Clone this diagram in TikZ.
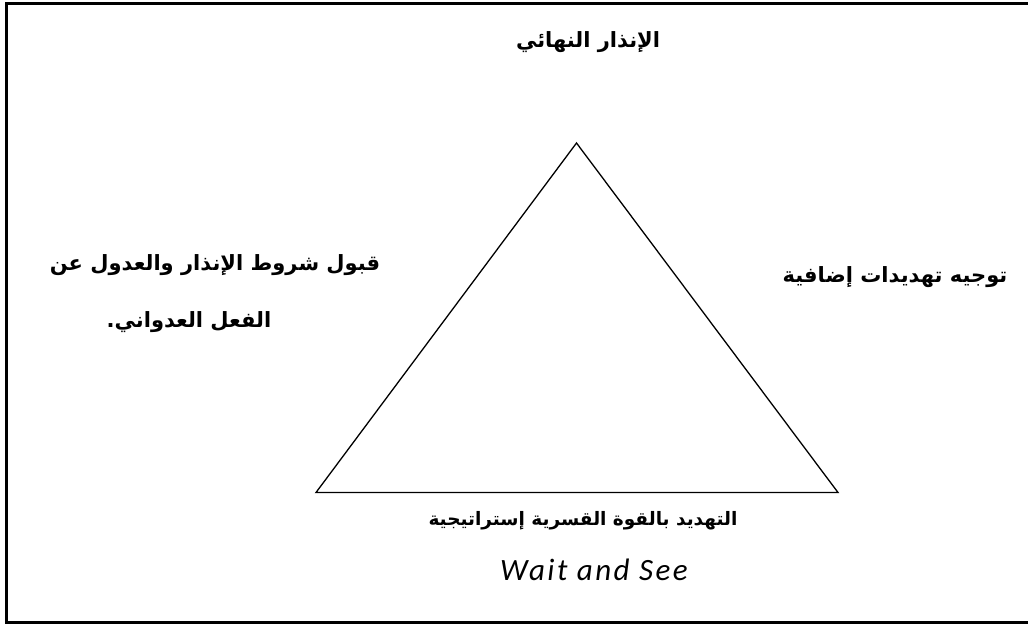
\documentclass[tikz,border=0pt]{standalone}
\usepackage{fontspec}
\TeXXeTstate=1
\newfontfamily\arabicfont[Script=Arabic]{DejaVu Sans}
\newfontfamily\latinfont[LetterSpace=8]{Carlito}
\tikzset{
  arlabel/.style={font=\arabicfont\bfseries\fontsize{21}{24}\selectfont,inner sep=0pt},
  frameline/.style={line width=3pt},
  triline/.style={line width=1.3pt}
}

\begin{document}
\begin{tikzpicture}[x=1pt,y=-1pt]
  \useasboundingbox (0,0) rectangle (1028,626);
  \draw[frameline] (6,3.5) rectangle (1034,622.5);
  % triangle
  \coordinate (apex) at (576.5,143);
  \coordinate (baseleft) at (316,492.5);
  \coordinate (baseright) at (838,492.5);
  \draw[triline,line join=miter] (apex) -- (baseleft) -- (baseright) -- cycle;
  % labels
  \node[arlabel] (ultimatum) at (588,42) {\beginR الإنذار النهائي\endR};
  \node[arlabel] (accept1) at (215,265) {\beginR قبول شروط الإنذار والعدول عن\endR};
  \node[arlabel] (accept2) at (189,322) {\beginR الفعل العدواني.\endR};
  \node[arlabel] (threats) at (895,277) {\beginR توجيه تهديدات إضافية\endR};
  \node[arlabel,font=\arabicfont\bfseries\fontsize{18.5}{22}\selectfont] (strategy) at (583,521) {\beginR التهديد بالقوة القسرية إستراتيجية\endR};
  \node[font=\latinfont\itshape\fontsize{31}{34}\selectfont,inner sep=0pt] (wait) at (594,570) {Wait and See};
\end{tikzpicture}
\end{document}
